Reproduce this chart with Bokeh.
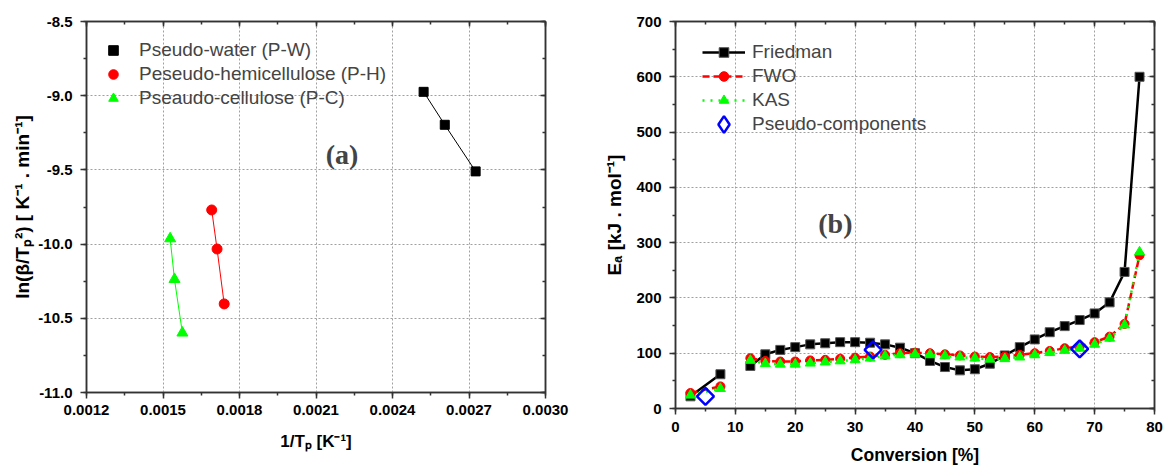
import math
from bokeh.plotting import figure
from bokeh.layouts import row
from bokeh.models import (LinearAxis, SingleIntervalTicker, PrintfTickFormatter,
                          Legend, LegendItem, Label, Range1d)
from bokeh.embed import file_html
from bokeh.resources import INLINE

NaN = float("nan")

# ---------------- Panel (a) data ----------------
pw_x = [0.002522, 0.002605, 0.002726]
pw_y = [-8.974, -9.196, -9.510]
ph_x = [0.001691, 0.001712, 0.001740]
ph_y = [-9.770, -10.033, -10.403]
pc_x = [0.001528, 0.001545, 0.001576]
pc_y = [-9.963, -10.237, -10.598]
names_a = ["Pseudo-water (P-W)", "Peseudo-hemicellulose (P-H)", "Pseaudo-cellulose (P-C)"]

# ---------------- Panel (b) data ----------------
conversion = [2.5, 7.5, 10, 12.5, 15, 17.5, 20, 22.5, 25, 27.5, 30, 32.5, 35, 37.5, 40,
              42.5, 45, 47.5, 50, 52.5, 55, 57.5, 60, 62.5, 65, 67.5, 70, 72.5, 75, 77.5]
friedman = [22, 62, NaN, 77, 98, 106, 111, 116, 118, 120, 120, 119, 116, 110, 100,
            86, 75, 69, 71, 81, 96, 111, 125, 138, 149, 160, 172, 192, 247, 600]
fwo = [28, 40, NaN, 91, 86, 85, 85, 87, 88, 90, 92, 94, 97, 100, 101,
       100, 98, 96, 94, 93, 94, 97, 100, 104, 109, 112, 120, 130, 153, 277]
kas = [24, 36, NaN, 87, 81, 80, 80, 82, 84, 86, 88, 91, 95, 97, 98,
       97, 95, 93, 91, 89, 90, 93, 97, 101, 105, 109, 116, 127, 151, 283]
pseudo_x = [5, 33, 67.5]
pseudo_y = [22, 106, 108]
names_b = ["Friedman", "FWO", "KAS", "Pseudo-components"]

AX = "#333333"
FONT = "Liberation Sans"


def style_main_axis(ax, label_standoff, axis_label_standoff, label_size):
    ax.axis_line_color = AX
    ax.axis_line_width = 1.5
    ax.major_tick_line_color = AX
    ax.major_tick_line_width = 1.5
    ax.minor_tick_line_color = AX
    ax.minor_tick_line_width = 1.5
    ax.major_tick_out = 6
    ax.major_tick_in = 0
    ax.minor_tick_out = 3
    ax.minor_tick_in = 0
    ax.major_label_text_font = FONT
    ax.major_label_text_font_style = "bold"
    ax.major_label_text_font_size = "15px"
    ax.major_label_text_color = "black"
    ax.major_label_standoff = label_standoff
    ax.axis_label_text_font = FONT
    ax.axis_label_text_font_style = "bold"
    ax.axis_label_text_font_size = label_size
    ax.axis_label_text_color = "black"
    ax.axis_label_standoff = axis_label_standoff


def mirror_axis(ticker):
    ax = LinearAxis(ticker=ticker)
    ax.axis_line_color = AX
    ax.axis_line_width = 1.5
    ax.major_tick_line_color = AX
    ax.major_tick_line_width = 1.5
    ax.minor_tick_line_color = AX
    ax.minor_tick_line_width = 1.5
    ax.major_tick_in = 5
    ax.major_tick_out = 0
    ax.minor_tick_in = 3
    ax.minor_tick_out = 0
    ax.major_label_text_color = None
    ax.major_label_text_font_size = "0px"
    ax.major_label_standoff = 0
    return ax


def style_grid(p, xt, yt):
    for g, t in ((p.xgrid[0], xt), (p.ygrid[0], yt)):
        g.ticker = t
        g.grid_line_color = "#a0a0a0"
        g.grid_line_dash = "2 2"
        g.grid_line_width = 1


# ================= Panel (a) =================
pa = figure(frame_width=459, frame_height=371,
            x_range=Range1d(0.0012, 0.0030), y_range=Range1d(-11.0, -8.5),
            output_backend="svg", toolbar_location=None,
            min_border_left=86, min_border_right=35, min_border_top=21, min_border_bottom=20)
pa.outline_line_color = AX
pa.outline_line_width = 1.5

xta = SingleIntervalTicker(interval=0.0003, num_minor_ticks=2)
yta = SingleIntervalTicker(interval=0.5, num_minor_ticks=2)
pa.xaxis.ticker = xta
pa.yaxis.ticker = yta
pa.xaxis.formatter = PrintfTickFormatter(format="%.4f")
pa.yaxis.formatter = PrintfTickFormatter(format="%.1f")
pa.xaxis.axis_label = "1/T\u209a [K\u207b\u00b9]"
pa.yaxis.axis_label = "ln(\u03b2/T\u209a\u00b2) [ K\u207b\u00b9 . min\u207b\u00b9]"
style_main_axis(pa.xaxis[0], 6, 14, "17px")
style_main_axis(pa.yaxis[0], 8, 2, "19px")
pa.add_layout(mirror_axis(xta), "above")
pa.add_layout(mirror_axis(yta), "right")
style_grid(pa, xta, yta)

pa.line(pw_x, pw_y, line_color="black", line_width=1)
pa.line(ph_x, ph_y, line_color="red", line_width=1)
pa.line(pc_x, pc_y, line_color="#00ff00", line_width=1)
s_pw = pa.scatter(pw_x, pw_y, marker="square", size=9, fill_color="black", line_color="black")
s_ph = pa.scatter(ph_x, ph_y, marker="circle", size=10, fill_color="red", line_color="red")
s_pc = pa.scatter(pc_x, pc_y, marker="triangle", size=11, fill_color="#00ff00", line_color="#00ff00")

leg_a = Legend(items=[LegendItem(label=names_a[0], renderers=[s_pw]),
                      LegendItem(label=names_a[1], renderers=[s_ph]),
                      LegendItem(label=names_a[2], renderers=[s_pc])],
               location=(15, 282), padding=0, margin=0, spacing=0,
               glyph_width=24, glyph_height=24, label_height=24, label_standoff=14,
               label_text_font=FONT, label_text_font_size="19px",
               border_line_alpha=0, background_fill_alpha=0)
pa.add_layout(leg_a)
pa.add_layout(Label(x=0.002202, y=-9.398, text="(a)", text_font="Liberation Serif",
                    text_font_style="bold", text_font_size="28px",
                    text_align="center", text_baseline="middle"))

# ================= Panel (b) =================
pb = figure(frame_width=479, frame_height=387,
            x_range=Range1d(0, 80), y_range=Range1d(0, 700),
            output_backend="svg", toolbar_location=None,
            min_border_left=95, min_border_right=10, min_border_top=21, min_border_bottom=20)
pb.outline_line_color = AX
pb.outline_line_width = 1.5

xtb = SingleIntervalTicker(interval=10, num_minor_ticks=2)
ytb = SingleIntervalTicker(interval=100, num_minor_ticks=2)
pb.xaxis.ticker = xtb
pb.yaxis.ticker = ytb
pb.xaxis.axis_label = "Conversion [%]"
pb.yaxis.axis_label = "E\u2090 [kJ . mol\u207b\u00b9]"
style_main_axis(pb.xaxis[0], 7, 10, "17.5px")
style_main_axis(pb.yaxis[0], 8, 8, "19px")
pb.add_layout(mirror_axis(xtb), "above")
pb.add_layout(mirror_axis(ytb), "right")
style_grid(pb, xtb, ytb)

l_f = pb.line(conversion, friedman, line_color="black", line_width=2.5)
s_f = pb.scatter(conversion, friedman, marker="square", size=9, fill_color="black", line_color="#555555")
l_r = pb.line(conversion, fwo, line_color="red", line_width=2.5, line_dash="7 4")
s_r = pb.scatter(conversion, fwo, marker="circle", size=9, fill_color="red", line_color="red")
l_g = pb.line(conversion, kas, line_color="#00ff00", line_width=2.5, line_dash="2 6")
s_g = pb.scatter(conversion, kas, marker="triangle", size=10, fill_color="#00ff00", line_color="#00ff00")
s_d = pb.scatter(pseudo_x, pseudo_y, marker="square", angle=math.pi / 4, size=12,
                 fill_color=None, line_color="#0000ff", line_width=2.5)
# legend proxy for the pseudo-components entry (legend glyphs are never rotated);
# x is left undefined so that it draws nothing inside the plot itself
s_d_leg = pb.scatter([NaN] * len(pseudo_y), pseudo_y, marker="diamond", fill_color=None,
                     line_color="#0000ff", line_width=2.5)

leg_b = Legend(items=[LegendItem(label=names_b[0], renderers=[l_f, s_f]),
                      LegendItem(label=names_b[1], renderers=[l_r, s_r]),
                      LegendItem(label=names_b[2], renderers=[l_g, s_g])],
               location=(27, 296), padding=0, margin=0, spacing=0,
               glyph_width=43, glyph_height=24, label_height=24, label_standoff=7,
               label_text_font=FONT, label_text_font_size="19px",
               border_line_alpha=0, background_fill_alpha=0)
leg_b2 = Legend(items=[LegendItem(label=names_b[3], renderers=[s_d_leg])],
                location=(27, 263), padding=0, margin=0, spacing=0,
                glyph_width=43, glyph_height=42, label_height=42, label_standoff=7,
                label_text_font=FONT, label_text_font_size="19px",
                border_line_alpha=0, background_fill_alpha=0)
pb.add_layout(leg_b)
pb.add_layout(leg_b2)
pb.add_layout(Label(x=26.7, y=334, text="(b)", text_font="Liberation Serif",
                    text_font_style="bold", text_font_size="28px",
                    text_align="center", text_baseline="middle"))

layout = row(pa, pb)
open("out.html", "w").write(file_html(layout, INLINE))
